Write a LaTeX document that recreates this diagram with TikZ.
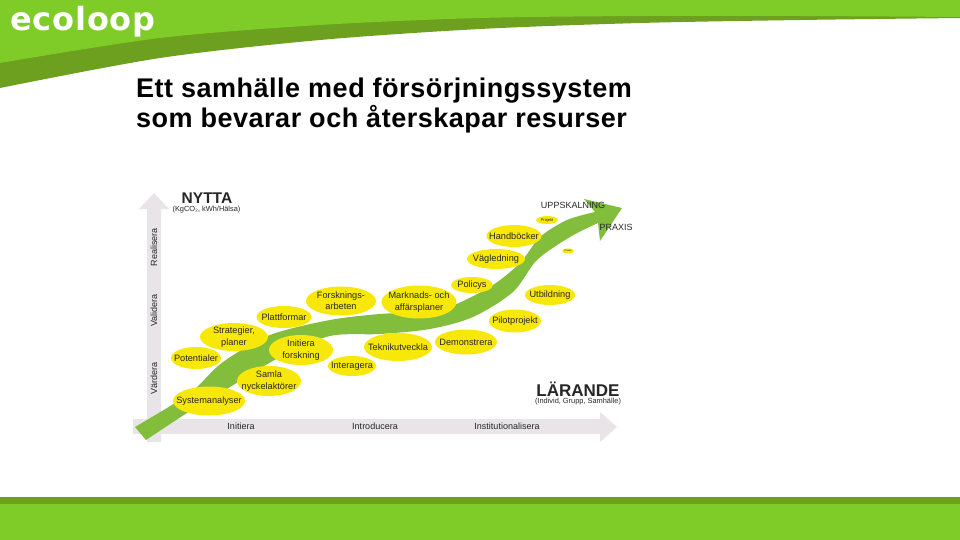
\documentclass[tikz,border=0pt]{standalone}
\usepackage{fontspec}
\setmainfont{Liberation Sans}
\newfontfamily\logofont[LetterSpace=2.5]{DejaVu Sans}
\newfontfamily\titlefont[LetterSpace=1.85]{Liberation Sans}
\usetikzlibrary{shapes.geometric}
\definecolor{bandLight}{RGB}{127,203,40}
\definecolor{bandDark}{RGB}{108,160,30}
\definecolor{curveGreen}{RGB}{130,190,60}
\definecolor{bubbleFill}{RGB}{248,232,10}
\definecolor{axisGrey}{RGB}{232,228,232}
\colorlet{ink}{black!85}
\tikzset{
  bubble/.style={ellipse, fill=bubbleFill, inner sep=0pt},
  bubbletext/.style={font=\fontsize{9.2}{11.3}\selectfont, text=ink, align=center, inner sep=0pt},
  axislabel/.style={font=\fontsize{9}{10}\selectfont, text=ink, inner sep=0pt},
  heading/.style={font=\bfseries\fontsize{17}{18}\selectfont, text=ink, inner sep=0pt},
  subheading/.style={font=\fontsize{7.4}{8}\selectfont, text=ink, inner sep=0pt},
  title/.style={font=\titlefont\bfseries\fontsize{27}{30}\selectfont, text=black, align=left, anchor=north west, inner sep=0pt}
}
\newcommand{\Bubble}[6][\fontsize{9.2}{11.3}\selectfont]{%
  \node[bubble, minimum width=#4pt, minimum height=#5pt] (#2) at (#3) {};
  \node[bubbletext, font=#1] (#2text) at (#2) {#6};
}

\begin{document}
\begin{tikzpicture}[x=1pt,y=-1pt]
  \useasboundingbox (0,0) rectangle (960,540);

  % top and bottom bands
  \fill[bandDark] (0,0) -- (960,0) -- plot[smooth] coordinates {(960,18) (800,20) (640,23) (480,29) (320,40) (160,58) (0,88)} -- cycle;
  \fill[bandLight] (0,0) -- (960,0) -- plot[smooth] coordinates {(960,17) (800,16) (640,16) (480,18) (320,25) (160,38) (0,63)} -- cycle;
  \fill[bandDark] (0,497) rectangle (960,504);
  \fill[bandLight] (0,504) rectangle (960,540);

  \node[font=\logofont\bfseries\fontsize{32}{33}\selectfont, text=white, inner sep=0pt, anchor=base west] (logo) at (10,30.5) {ecoloop};
  \node[title] (heading) at (136,77.5) {Ett samhälle med försörjningssystem\\som bevarar och återskapar resurser};

  % axes
  \fill[axisGrey] (147,442) -- (147,209) -- (139,209) -- (154,193) -- (169,209) -- (161,209) -- (161,442) -- cycle;
  \fill[axisGrey] (133,419) -- (600,419) -- (600,412) -- (617,427) -- (600,442) -- (600,434) -- (133,434) -- cycle;

  % the curve
  \fill[curveGreen] (135,427) -- plot[smooth] coordinates {(135,427) (175,403) (197,387) (223,362) (270,335) (330,320) (380,314) (420,312) (447,308) (490,287) (520,263) (540,237) (567,220) (595,212)}
    -- (584,199) -- (622,208) -- (600,241) -- (598,223)
    -- plot[smooth] coordinates {(598,223) (570,237) (537,260) (513,292) (473,317) (430,329) (380,334) (330,336) (280,357) (230,387) (187,413) (146,440)} -- cycle;

  \Bubble{systemanalyser}{209,401}{72}{29}{Systemanalyser}
  \Bubble{potentialer}{196,358}{50}{22}{Potentialer}
  \Bubble{strategier}{234,337}{68}{28}{Strategier,\\planer}
  \Bubble{plattformar}{284,317}{55}{22}{Plattformar}
  \Bubble{forskningsarbeten}{341,301}{70}{29}{Forsknings-\\arbeten}
  \Bubble{initiera}{301,350}{64}{30}{Initiera\\forskning}
  \Bubble{samla}{269,381}{64}{30}{Samla\\nyckelaktörer}
  \Bubble{interagera}{352,366}{48}{20}{Interagera}
  \Bubble{teknikutveckla}{398,347}{68}{28}{Teknikutveckla}
  \Bubble{marknadsplaner}{419,302}{75}{33}{Marknads- och\\affärsplaner}
  \Bubble{demonstrera}{466,342}{62}{25}{Demonstrera}
  \Bubble{pilotprojekt}{515,321}{52}{23}{Pilotprojekt}
  \Bubble{utbildning}{550,295}{50}{20}{Utbildning}
  \Bubble{policys}{472,285}{42}{16}{Policys}
  \Bubble{vagledning}{496,259}{58}{20}{Vägledning}
  \Bubble{handbocker}{514,236}{55}{22}{Handböcker}
  \Bubble[\fontsize{4}{5}\selectfont]{projekt}{547,220}{22}{8}{Projekt}
  \Bubble[\fontsize{2.5}{3}\selectfont]{smallbubble}{568,251}{12}{5}{Praxis}

  \node[axislabel] (initiera axis) at (241,426.5) {Initiera};
  \node[axislabel] (introducera axis) at (375,426.5) {Introducera};
  \node[axislabel] (institutionalisera axis) at (507,426.5) {Institutionalisera};
  \node[axislabel, rotate=90] (vardera axis) at (154,378) {Värdera};
  \node[axislabel, rotate=90] (validera axis) at (154,310.5) {Validera};
  \node[axislabel, rotate=90] (realisera axis) at (154,247) {Realisera};

  \node[heading, font=\bfseries\fontsize{15.5}{16}\selectfont] (nytta) at (207,198) {NYTTA};
  \node[subheading] (nyttasub) at (206.5,209.5) {(KgCO₂, kWh/Hälsa)};
  \node[heading] (larande) at (578,389) {LÄRANDE};
  \node[subheading] (larandesub) at (578,402) {(Individ, Grupp, Samhälle)};
  \node[axislabel] (uppskalning) at (573,205) {UPPSKALNING};
  \node[axislabel] (praxis) at (616,227) {PRAXIS};
\end{tikzpicture}
\end{document}
